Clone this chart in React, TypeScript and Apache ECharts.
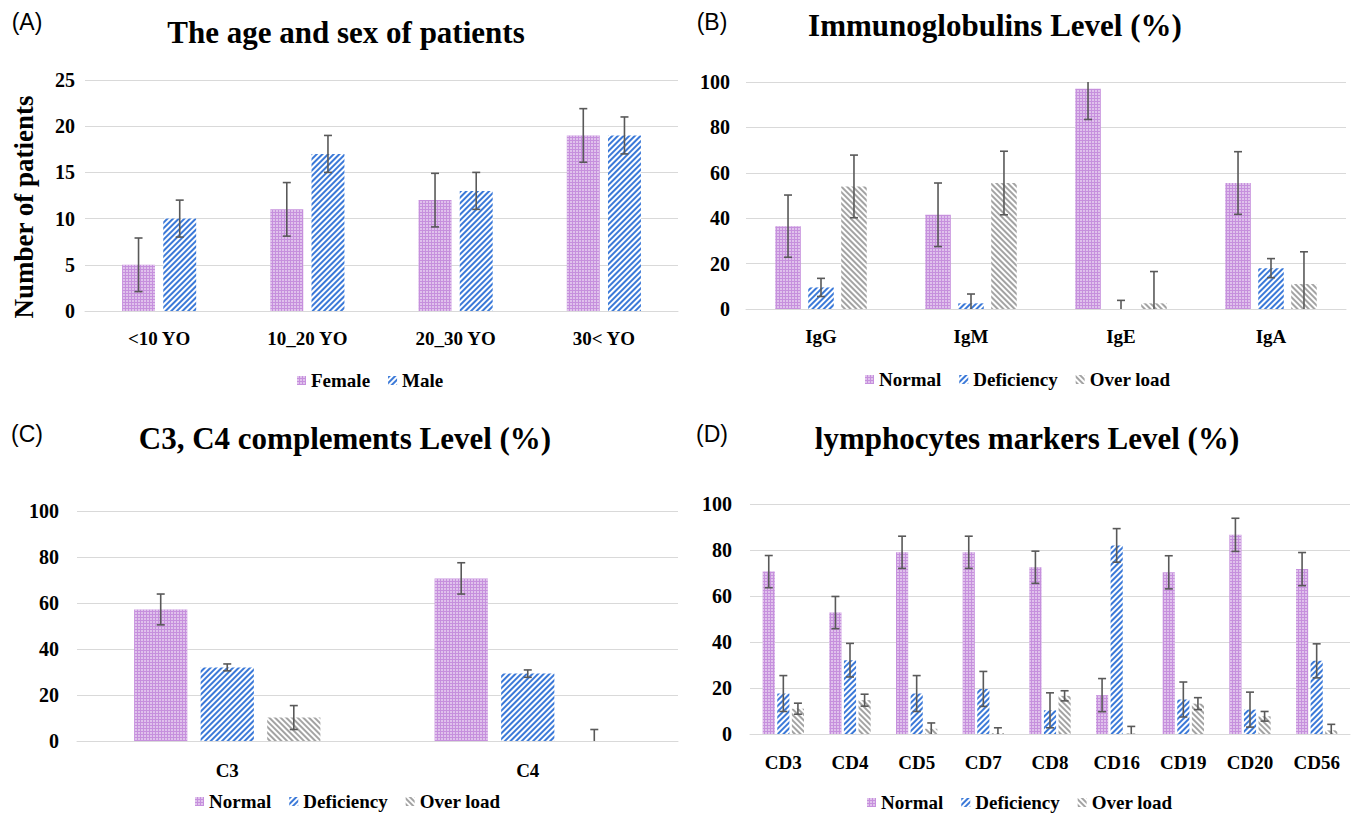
import React, { useEffect, useRef } from "react";
import * as echarts from "echarts";

// ---------- DATA ----------
const ageCategories = ["<10 YO", "10_20 YO", "20_30 YO", "30< YO"];
const femaleValues = [5, 11, 12, 19];
const femaleErr = [2.9, 2.9, 2.9, 2.9];
const maleValues = [10, 17, 13, 19];
const maleErr = [2, 2, 2, 2];

const igCategories = ["IgG", "IgM", "IgE", "IgA"];
const igNormal = [36.5, 41.5, 97, 55.5];
const igNormalErr = [13.7, 14, 13.5, 13.8];
const igDeficiency = [9.5, 2.5, 0, 18];
const igDeficiencyErr = [4, 4.1, 3.8, 4.2];
const igOverload = [54, 55.5, 2.5, 11];
const igOverloadErr = [13.8, 14, 14, 14.2];

const compCategories = ["C3", "C4"];
const compNormal = [57.2, 70.7];
const compNormalErr = [6.7, 6.8];
const compDeficiency = [32, 29.3];
const compDeficiencyErr = [1.5, 1.6];
const compOverload = [10.2, 0];
const compOverloadErr = [5.2, 5];

const cdCategories = ["CD3", "CD4", "CD5", "CD7", "CD8", "CD16", "CD19", "CD20", "CD56"];
const cdNormal = [70.6, 52.8, 79, 79, 72.5, 16.9, 70.3, 86.6, 71.7];
const cdNormalErr = [7, 7, 7, 7, 7, 7.2, 7.2, 7.2, 7.2];
const cdDeficiency = [17.6, 32.1, 17.6, 19.6, 10.3, 82, 15, 10.6, 31.8];
const cdDeficiencyErr = [7.8, 7.3, 7.8, 7.6, 7.6, 7.3, 7.6, 7.6, 7.4];
const cdOverload = [11, 14.7, 2.3, 0.4, 16.6, 0.3, 13.2, 7.7, 1.6];
const cdOverloadErr = [2.4, 2.6, 2.5, 2.3, 2.2, 3, 2.6, 2.1, 2.6];

const yTicksA = [0, 5, 10, 15, 20, 25];
const yTicksPct = [0, 20, 40, 60, 80, 100];

// ---------- STYLES ----------
const SERIF = "'Liberation Serif', 'Times New Roman', serif";
const SANS = "'Liberation Sans', Arial, sans-serif";

const normalStyle = {
  color: "#c690dd",
  decal: {
    symbol: "rect",
    symbolSize: 1,
    color: "rgba(255,255,255,0.45)",
    dashArrayX: [2, 1],
    dashArrayY: [2, 1],
    rotation: 0,
  },
};
const deficiencyStyle = {
  color: "#ffffff",
  decal: {
    symbol: "rect",
    symbolSize: 1,
    color: "#3b79d8",
    dashArrayX: [1, 0],
    dashArrayY: [2, 2],
    rotation: -Math.PI / 4,
  },
};
const overloadStyle = {
  color: "#ffffff",
  decal: {
    symbol: "rect",
    symbolSize: 1,
    color: "#a3a3a3",
    dashArrayX: [1, 0],
    dashArrayY: [2, 2],
    rotation: Math.PI / 4,
  },
};

type Layout = { catGap: number; barGap: number; n: number; max: number };

function barSeries(name: string, data: number[], grid: number, style: any, L: Layout) {
  return {
    name,
    type: "bar",
    xAxisIndex: grid,
    yAxisIndex: grid,
    data,
    itemStyle: style,
    barCategoryGap: `${L.catGap * 100}%`,
    barGap: `${L.barGap * 100}%`,
  };
}

function errSeries(values: number[], errs: number[], idx: number, grid: number, L: Layout) {
  return {
    type: "custom",
    name: `err-${grid}-${idx}`,
    xAxisIndex: grid,
    yAxisIndex: grid,
    silent: true,
    z: 10,
    encode: { x: 0, y: 1 },
    data: values.map((v, i) => [i, v, errs[i]]),
    renderItem: (params: any, api: any) => {
      const i = api.value(0);
      const v = api.value(1);
      const e = api.value(2);
      const band = api.size([1, 0])[0];
      const total = band * (1 - L.catGap);
      const bw = total / (L.n + (L.n - 1) * L.barGap);
      const off = -total / 2 + idx * bw * (1 + L.barGap) + bw / 2;
      const loRaw = v - e;
      const hiRaw = v + e;
      const lo = Math.max(0, loRaw);
      const hi = Math.min(L.max, hiRaw);
      const pLo = api.coord([i, lo]);
      const pHi = api.coord([i, hi]);
      const x = pLo[0] + off;
      const cap = 4;
      const st = { stroke: "#595959", lineWidth: 1.6 };
      const children: any[] = [
        { type: "line", shape: { x1: x, y1: pLo[1], x2: x, y2: pHi[1] }, style: st },
      ];
      if (hiRaw <= L.max)
        children.push({ type: "line", shape: { x1: x - cap, y1: pHi[1], x2: x + cap, y2: pHi[1] }, style: st });
      if (loRaw >= 0)
        children.push({ type: "line", shape: { x1: x - cap, y1: pLo[1], x2: x + cap, y2: pLo[1] }, style: st });
      return { type: "group", children };
    },
  };
}

function xAxis(grid: number, data: string[], margin: number) {
  return {
    type: "category",
    gridIndex: grid,
    data,
    axisLine: { show: true, lineStyle: { color: "#d9d9d9", width: 1 } },
    axisTick: { show: false },
    axisLabel: { color: "#000", fontFamily: SERIF, fontWeight: "bold", fontSize: 19, margin, interval: 0 },
  };
}

function yAxis(grid: number, ticks: number[], margin: number) {
  return {
    type: "value",
    gridIndex: grid,
    min: ticks[0],
    max: ticks[ticks.length - 1],
    interval: ticks[1] - ticks[0],
    axisLine: { show: false },
    axisTick: { show: false },
    splitLine: { show: true, lineStyle: { color: "#d9d9d9", width: 1 } },
    axisLabel: { color: "#000", fontFamily: SERIF, fontWeight: "bold", fontSize: 20, margin },
  };
}

function legend(names: string[], left: number, top: number) {
  return {
    data: names,
    left,
    top,
    icon: "rect",
    itemWidth: 9,
    itemHeight: 9,
    itemGap: 18,
    selectedMode: false,
    textStyle: { color: "#000", fontFamily: SERIF, fontWeight: "bold", fontSize: 19 },
  };
}

function txt(text: string, x: number, y: number, font: any, extra: any = {}) {
  return {
    type: "text",
    x,
    y,
    silent: true,
    ...extra,
    style: { text, fill: "#000", align: "center", verticalAlign: "middle", ...font },
  };
}

export default function App() {
  const ref = useRef<HTMLDivElement>(null);
  useEffect(() => {
    if (!ref.current) return;
    const chart = echarts.init(ref.current, null, { renderer: "svg" });

    const LA: Layout = { catGap: 0.5, barGap: 0.25, n: 2, max: 25 };
    const LB: Layout = { catGap: 0.39, barGap: 0.29, n: 3, max: 100 };
    const LC: Layout = { catGap: 0.38, barGap: 0.25, n: 3, max: 100 };
    const LD: Layout = { catGap: 0.38, barGap: 0.2, n: 3, max: 100 };

    const titleFont = { fontFamily: SERIF, fontWeight: "bold", fontSize: 31 };
    const labelFont = { fontFamily: SANS, fontSize: 23 };

    chart.setOption({
      animation: false,
      backgroundColor: "#ffffff",
      grid: [
        { left: 85, top: 80, width: 593, height: 231 },
        { left: 746, top: 82, width: 600, height: 227 },
        { left: 77, top: 511, width: 601, height: 230 },
        { left: 750, top: 504, width: 600, height: 230 },
      ],
      xAxis: [
        xAxis(0, ageCategories, 18),
        xAxis(1, igCategories, 18),
        xAxis(2, compCategories, 20),
        xAxis(3, cdCategories, 19),
      ],
      yAxis: [
        yAxis(0, yTicksA, 10),
        yAxis(1, yTicksPct, 16),
        yAxis(2, yTicksPct, 18),
        yAxis(3, yTicksPct, 18),
      ],
      legend: [
        legend(["Female", "Male"], 292, 366),
        legend(["Normal", "Deficiency", "Over load"], 860, 365),
        legend(["Normal", "Deficiency", "Over load"], 190, 787),
        legend(["Normal", "Deficiency", "Over load"], 862, 788),
      ],
      graphic: [
        txt("(A)", 27, 22, labelFont),
        txt("(B)", 712, 22, labelFont),
        txt("(C)", 27, 434, labelFont),
        txt("(D)", 712, 434, labelFont),
        txt("The age and sex of patients", 346, 32, titleFont),
        txt("Immunoglobulins Level (%)", 995, 25, titleFont),
        txt("C3, C4 complements Level (%)", 345, 438, titleFont),
        txt("lymphocytes markers Level (%)", 1027, 438, titleFont),
        txt("Number of patients", 24, 207, { fontFamily: SERIF, fontWeight: "bold", fontSize: 27 }, { rotation: Math.PI / 2 }),
      ],
      series: [
        barSeries("Female", femaleValues, 0, normalStyle, LA),
        barSeries("Male", maleValues, 0, deficiencyStyle, LA),
        errSeries(femaleValues, femaleErr, 0, 0, LA),
        errSeries(maleValues, maleErr, 1, 0, LA),

        barSeries("Normal", igNormal, 1, normalStyle, LB),
        barSeries("Deficiency", igDeficiency, 1, deficiencyStyle, LB),
        barSeries("Over load", igOverload, 1, overloadStyle, LB),
        errSeries(igNormal, igNormalErr, 0, 1, LB),
        errSeries(igDeficiency, igDeficiencyErr, 1, 1, LB),
        errSeries(igOverload, igOverloadErr, 2, 1, LB),

        barSeries("Normal", compNormal, 2, normalStyle, LC),
        barSeries("Deficiency", compDeficiency, 2, deficiencyStyle, LC),
        barSeries("Over load", compOverload, 2, overloadStyle, LC),
        errSeries(compNormal, compNormalErr, 0, 2, LC),
        errSeries(compDeficiency, compDeficiencyErr, 1, 2, LC),
        errSeries(compOverload, compOverloadErr, 2, 2, LC),

        barSeries("Normal", cdNormal, 3, normalStyle, LD),
        barSeries("Deficiency", cdDeficiency, 3, deficiencyStyle, LD),
        barSeries("Over load", cdOverload, 3, overloadStyle, LD),
        errSeries(cdNormal, cdNormalErr, 0, 3, LD),
        errSeries(cdDeficiency, cdDeficiencyErr, 1, 3, LD),
        errSeries(cdOverload, cdOverloadErr, 2, 3, LD),
      ],
    });
    return () => chart.dispose();
  }, []);

  return (
    <div
      ref={ref}
      style={{ position: "fixed", left: 0, top: 0, width: 1354, height: 813, background: "#fff" }}
    />
  );
}
